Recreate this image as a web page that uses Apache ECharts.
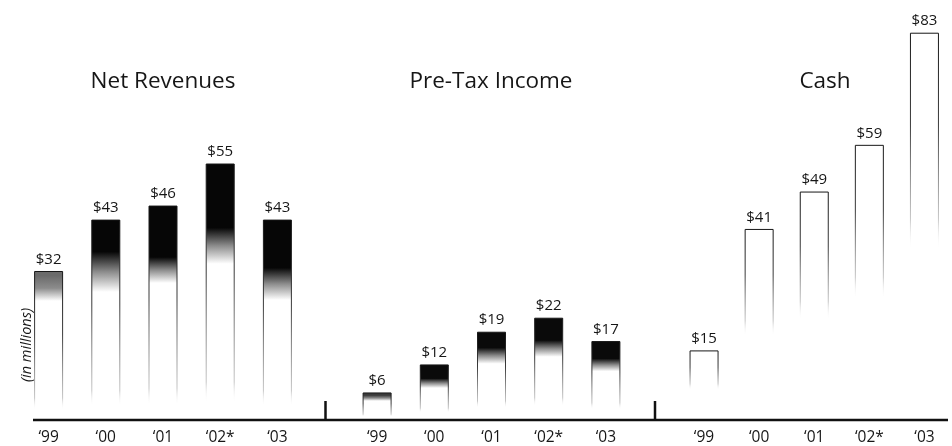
<!DOCTYPE html>
<html>
<head>
<meta charset="utf-8">
<script src="https://cdn.jsdelivr.net/npm/echarts@6/dist/echarts.min.js"></script>
<style>
  html, body { margin: 0; padding: 0; background: #fff; }
  #chart { width: 952px; height: 446px; }
</style>
</head>
<body>
<div id="chart"></div>
<script>
// ---- data (USD, in millions) ----
const years = ['\u201899', '\u201800', '\u201801', '\u201802*', '\u201803'];
const netRevenues = [32, 43, 46, 55, 43];
const preTaxIncome = [6, 12, 19, 22, 17];
const cash = [15, 41, 49, 59, 83];
const panelTitles = ['Net Revenues', 'Pre-Tax Income', 'Cash'];
const unitNote = '(in millions)';

// ---- layout & style ----
const FONT = '"Open Sans", "Noto Sans", "DejaVu Sans", sans-serif';
const INK = '#161616';
const panelLeft = [20, 348.5, 676.5];
const panelWidth = 286;
const titleCenter = [163, 491, 825];
const plotBottom = 25.5;
const yMax = 90;

// per-bar shading: [end of dark band, end of fade, top tone]
const revenueTone = [
  [0.03, 0.20, '#6a6a6a'],
  [0.16, 0.36, '#060606'],
  [0.24, 0.36, '#060606'],
  [0.25, 0.39, '#060606'],
  [0.24, 0.40, '#060606']
];
const preTaxTone = [
  [0.10, 0.30, '#3a3a3a'],
  [0.25, 0.42, '#0a0a0a'],
  [0.18, 0.36, '#0a0a0a'],
  [0.22, 0.38, '#0a0a0a'],
  [0.22, 0.38, '#0a0a0a']
];
// how far down each panel's outline stays visible (fraction of bar height)
const outlineReach = [0.85, 0.78, 0.48];

const grad = (stops) => new echarts.graphic.LinearGradient(0, 0, 0, 1,
  stops.map(([offset, color]) => ({ offset, color })));

function fillFor(tone) {
  if (!tone) return '#ffffff';
  const [dark, fade, top] = tone;
  return grad([[0, top], [dark, top], [(dark + fade) / 2, '#8c8c8c'], [fade, '#ffffff'], [1, '#ffffff']]);
}

function outlineFor(reach) {
  return grad([
    [0, '#151515'],
    [reach * 0.5, '#3a3a3a'],
    [reach, 'rgba(90,90,90,0.35)'],
    [Math.min(reach + 0.08, 1), 'rgba(255,255,255,0)'],
    [1, 'rgba(255,255,255,0)']
  ]);
}

const panels = [
  { values: netRevenues, tones: revenueTone },
  { values: preTaxIncome, tones: preTaxTone },
  { values: cash, tones: [] }
];

const chart = echarts.init(document.getElementById('chart'), null, { renderer: 'canvas' });

const option = {
  animation: false,
  backgroundColor: '#ffffff',
  title: panelTitles.map((t, i) => ({
    text: t,
    left: titleCenter[i],
    top: 70,
    textAlign: 'center',
    padding: 0,
    textStyle: { fontFamily: FONT, fontSize: 22.5, fontWeight: 'normal', color: INK }
  })),
  grid: panels.map((p, i) => ({
    left: panelLeft[i], width: panelWidth, top: 0, bottom: plotBottom, containLabel: false
  })),
  xAxis: panels.map((p, i) => ({
    type: 'category',
    gridIndex: i,
    data: years,
    boundaryGap: true,
    axisLine: { show: false },
    axisTick: { show: false },
    axisLabel: { fontFamily: FONT, fontSize: 15.5, color: INK, margin: 9 }
  })),
  yAxis: panels.map((p, i) => ({
    type: 'value',
    gridIndex: i,
    min: 0,
    max: yMax,
    show: false
  })),
  series: panels.map((p, i) => ({
    type: 'bar',
    xAxisIndex: i,
    yAxisIndex: i,
    barWidth: 29,
    data: p.values.map((v, k) => ({
      value: v,
      itemStyle: {
        color: fillFor(p.tones[k]),
        borderColor: outlineFor(outlineReach[i]),
        borderWidth: 1
      }
    })),
    label: {
      show: true,
      position: 'top',
      distance: 4,
      fontFamily: FONT,
      fontSize: 15,
      color: INK,
      formatter: (d) => '$' + d.value
    }
  }))
};

chart.setOption(option);

// baseline and panel separators, anchored to the value axis zero
const zeroY = chart.convertToPixel({ gridIndex: 0 }, [0, 0])[1];
const baseY = zeroY - 0.5;
chart.setOption({
  graphic: [
    {
      type: 'line',
      shape: { x1: 33, y1: baseY, x2: 948, y2: baseY },
      style: { stroke: '#111', lineWidth: 2.5 },
      z: 10
    },
    ...[325.5, 655].map((x) => ({
      type: 'line',
      shape: { x1: x, y1: baseY - 19, x2: x, y2: baseY },
      style: { stroke: '#111', lineWidth: 2.5 },
      z: 10
    })),
    {
      type: 'text',
      x: 27,
      y: 345,
      rotation: Math.PI / 2,
      style: {
        text: unitNote,
        font: 'italic 14.5px ' + FONT,
        fill: INK,
        align: 'center',
        verticalAlign: 'middle'
      }
    }
  ]
});
</script>
</body>
</html>
